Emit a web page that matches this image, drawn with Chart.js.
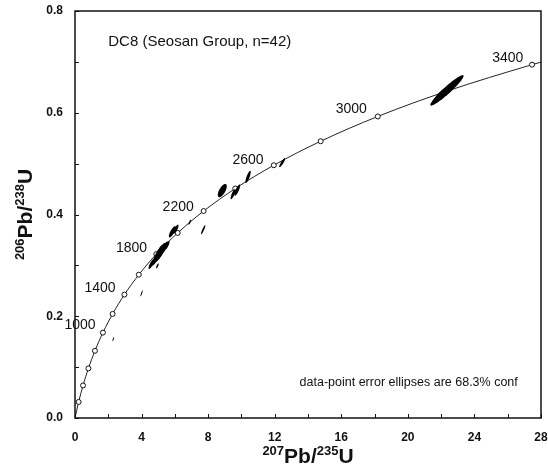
<!DOCTYPE html>
<html>
<head>
<meta charset="utf-8">
<script src="https://cdn.jsdelivr.net/npm/chart.js@4/dist/chart.umd.min.js"></script>
<style>
  html, body { margin: 0; padding: 0; background: #fff; }
  #wrap { width: 548px; height: 474px; position: relative; }
</style>
</head>
<body>
<div id="wrap"><canvas id="chart"></canvas></div>
<script>
"use strict";

// concordia curve, markers every 200 Ma (first/last points unmarked)
const concAge = [0, 200, 400, 600, 800, 1000, 1200, 1400, 1600, 1800, 2000, 2200, 2400, 2600, 2800, 3000, 3200, 3400, 3419];
const concX = [0, 0.218, 0.483, 0.806, 1.199, 1.677, 2.260, 2.970, 3.835, 4.887, 6.170, 7.729, 9.629, 11.944, 14.762, 18.193, 22.374, 27.462, 28.0];
const concY = [0, 0.0315, 0.0640, 0.0975, 0.1321, 0.1678, 0.2046, 0.2426, 0.2817, 0.3221, 0.3638, 0.4068, 0.4511, 0.4968, 0.5440, 0.5927, 0.6428, 0.6945, 0.6995];

// age labels
const ageText = ["1000", "1400", "1800", "2200", "2600", "3000", "3400"];
const ageX = [0.3, 1.5, 3.4, 6.2, 10.4, 16.6, 26.0];
const ageY = [0.183, 0.255, 0.334, 0.415, 0.507, 0.607, 0.707];

// error ellipses: centre, half-extent in x and y, correlation
const ellX   = [4.6, 4.85, 5.1, 5.35, 5.55, 4.95, 5.85, 6.05, 7.7, 6.9, 4.0, 2.3, 8.85, 9.5, 9.75, 10.4, 12.45, 22.35, 22.0];
const ellY   = [0.303, 0.313, 0.325, 0.334, 0.340, 0.299, 0.366, 0.371, 0.370, 0.385, 0.245, 0.155, 0.447, 0.440, 0.448, 0.474, 0.502, 0.644, 0.636];
const ellSX  = [0.18, 0.26, 0.37, 0.27, 0.13, 0.08, 0.21, 0.17, 0.13, 0.08, 0.07, 0.05, 0.27, 0.15, 0.17, 0.16, 0.18, 1.0, 0.45];
const ellSY  = [0.010, 0.014, 0.019, 0.013, 0.008, 0.005, 0.011, 0.009, 0.009, 0.005, 0.006, 0.004, 0.013, 0.010, 0.011, 0.012, 0.009, 0.03, 0.015];
const ellRho = [0.82, 0.85, 0.82, 0.82, 0.78, 0.8, 0.78, 0.78, 0.9, 0.8, 0.88, 0.8, 0.65, 0.8, 0.8, 0.8, 0.88, 0.95, 0.88];

const xMajor = [0, 4, 8, 12, 16, 20, 24, 28];
const xMinor = [2, 6, 10, 14, 18, 22, 26];
const yMajor = [0, 0.2, 0.4, 0.6, 0.8];
const yMinor = [0.1, 0.3, 0.5, 0.7];

const FONT = "'Liberation Sans', Arial, sans-serif";

const concPoints = concX.map((v, i) => ({ x: v, y: concY[i] }));
const concRadius = concAge.map((a, i) => (i === 0 || i === concAge.length - 1 ? 0 : 2.5));

function richText(ctx, parts, x, y) {
  // parts: [text, size, raise]
  let cx = x;
  for (const [t, size, raise] of parts) {
    ctx.font = `bold ${size}px ${FONT}`;
    ctx.fillText(t, cx, y - raise);
    cx += ctx.measureText(t).width;
  }
}
function richWidth(ctx, parts) {
  let w = 0;
  for (const [t, size] of parts) {
    ctx.font = `bold ${size}px ${FONT}`;
    w += ctx.measureText(t).width;
  }
  return w;
}

const decor = {
  id: "decor",
  afterDatasetsDraw(chart) {
    const { ctx, chartArea: a, scales: { x, y } } = chart;
    ctx.save();

    // ellipses
    ctx.fillStyle = "#000";
    for (let i = 0; i < ellX.length; i++) {
      const cx = x.getPixelForValue(ellX[i]);
      const cy = y.getPixelForValue(ellY[i]);
      const ax = x.getPixelForValue(ellX[i] + ellSX[i]) - cx;
      const ay = y.getPixelForValue(ellY[i] + ellSY[i]) - cy;
      const r = ellRho[i], q = Math.sqrt(1 - r * r);
      ctx.beginPath();
      for (let k = 0; k <= 60; k++) {
        const t = (k / 60) * 2 * Math.PI;
        const px = cx + ax * Math.cos(t);
        const py = cy + ay * (r * Math.cos(t) + q * Math.sin(t));
        if (k) ctx.lineTo(px, py); else ctx.moveTo(px, py);
      }
      ctx.fill();
    }

    // frame
    ctx.strokeStyle = "#111";
    ctx.lineWidth = 1.5;
    ctx.strokeRect(a.left, a.top, a.right - a.left, a.bottom - a.top);

    // inward ticks
    ctx.lineWidth = 1;
    ctx.beginPath();
    for (const v of xMajor.concat(xMinor)) {
      const px = Math.round(x.getPixelForValue(v)) + 0.5;
      ctx.moveTo(px, a.bottom);
      ctx.lineTo(px, a.bottom - 4);
    }
    for (const v of yMajor.concat(yMinor)) {
      const py = Math.round(y.getPixelForValue(v)) + 0.5;
      ctx.moveTo(a.left, py);
      ctx.lineTo(a.left + 4, py);
    }
    ctx.stroke();

    // age labels
    ctx.fillStyle = "#111";
    ctx.font = `14px ${FONT}`;
    ctx.textAlign = "center";
    ctx.textBaseline = "middle";
    ageText.forEach((t, i) => ctx.fillText(t, x.getPixelForValue(ageX[i]), y.getPixelForValue(ageY[i])));

    // title and note
    ctx.font = `15px ${FONT}`;
    ctx.textAlign = "left";
    ctx.fillText("DC8 (Seosan Group, n=42)", x.getPixelForValue(2.0), y.getPixelForValue(0.739));
    ctx.font = `12.5px ${FONT}`;
    ctx.textAlign = "center";
    ctx.fillText("data-point error ellipses are 68.3% conf", x.getPixelForValue(20.05), y.getPixelForValue(0.069));

    // axis titles
    ctx.textAlign = "left";
    ctx.textBaseline = "alphabetic";
    const xt = [["207", 13, 8], ["Pb/", 21, 0], ["235", 13, 8], ["U", 21, 0]];
    const xw = richWidth(ctx, xt);
    richText(ctx, xt, (a.left + a.right) / 2 - xw / 2, 463);

    const yt = [["206", 13, 8], ["Pb/", 21, 0], ["238", 13, 8], ["U", 21, 0]];
    const yw = richWidth(ctx, yt);
    ctx.translate(32, (a.top + a.bottom) / 2);
    ctx.rotate(-Math.PI / 2);
    richText(ctx, yt, -yw / 2, 0);

    ctx.restore();
  },
};

new Chart(document.getElementById("chart"), {
  type: "scatter",
  data: {
    datasets: [
      {
        data: concPoints,
        showLine: true,
        borderColor: "#222",
        borderWidth: 1,
        cubicInterpolationMode: "monotone",
        pointRadius: concRadius,
        pointBackgroundColor: "#fff",
        pointBorderColor: "#111",
        pointBorderWidth: 1,
      },
    ],
  },
  options: {
    responsive: true,
    maintainAspectRatio: false,
    animation: false,
    events: [],
    layout: { padding: { top: 11, right: 7, left: 0, bottom: 0 } },
    plugins: { legend: { display: false }, tooltip: { enabled: false } },
    scales: {
      x: {
        type: "linear",
        min: 0,
        max: 28,
        afterFit: (s) => { s.height = 56; s.paddingLeft = 0; s.paddingRight = 0; },
        afterBuildTicks: (s) => { s.ticks = xMajor.map((v) => ({ value: v })); },
        grid: { display: false, drawTicks: false },
        border: { display: false },
        ticks: { padding: 12, color: "#111", font: { family: FONT, size: 12, weight: "bold" }, callback: (v) => String(v) },
      },
      y: {
        type: "linear",
        min: 0,
        max: 0.8,
        afterFit: (s) => { s.width = 75; s.paddingTop = 0; s.paddingBottom = 0; },
        afterBuildTicks: (s) => { s.ticks = yMajor.map((v) => ({ value: v })); },
        grid: { display: false, drawTicks: false },
        border: { display: false },
        ticks: { padding: 12, color: "#111", font: { family: FONT, size: 12, weight: "bold" }, callback: (v) => Number(v).toFixed(1) },
      },
    },
  },
  plugins: [decor],
});
</script>
</body>
</html>
